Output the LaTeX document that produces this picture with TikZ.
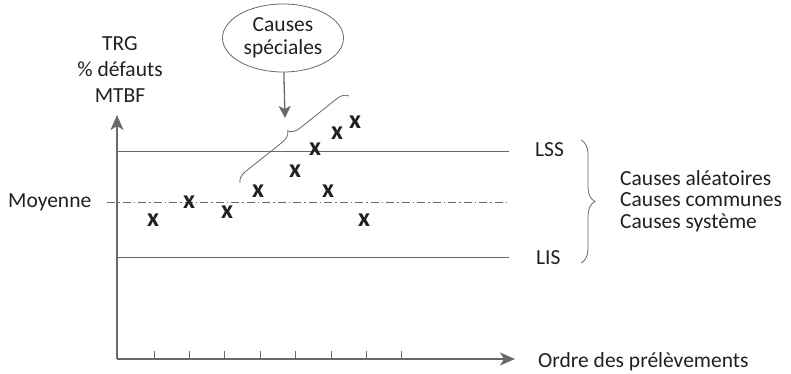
\documentclass[tikz,border=0pt]{standalone}
\usepackage{fontspec}
\setmainfont{Carlito}
\usetikzlibrary{arrows.meta,shapes.geometric,decorations.pathreplacing}
\definecolor{axisgray}{RGB}{105,105,105}
\definecolor{inkblack}{RGB}{35,31,32}
\begin{document}
\begin{tikzpicture}[x=1pt,y=-1pt,
    axis/.style={draw=axisgray,line width=1.3pt,-{Stealth[length=15pt,width=13pt,inset=4pt]}},
    limit/.style={draw=axisgray,line width=1pt},
    lbl/.style={text=inkblack,inner sep=0pt,font=\fontsize{21.5}{21.5}\selectfont},
    xmark/.style={text=inkblack,inner sep=0pt,font=\fontsize{26}{26}\selectfont\bfseries},
    curly/.style={draw=axisgray,line width=0.8pt,decorate,decoration={brace,amplitude=#1}}]
    \useasboundingbox (0,0) rectangle (791,374);
    % axes
    \coordinate (O) at (117,359);
    \coordinate (ytip) at (117,115);
    \coordinate (xtip) at (515,359);
    \draw[axis] (O) -- (ytip);
    \draw[axis] (O) -- (xtip);
    \foreach \x in {154,189.4,224.8,260.2,295.6,331,366.4,401.8}
        \draw[limit] (\x,351) -- (\x,359);
    % limits and mean
    \coordinate (lss) at (509,152);
    \coordinate (lis) at (509,257);
    \draw[limit] (117,152) -- (lss);
    \draw[limit] (117,257) -- (lis);
    \draw[limit,dash pattern=on 8pt off 3pt on 1.5pt off 3pt] (107,202) -- (509,202);
    % labels
    \node[lbl,font=\fontsize{21.5}{26}\selectfont,align=center] (yname) at (120,70) {TRG\\\% défauts\\MTBF};
    \node[lbl,anchor=base west] (moy) at (8,207) {Moyenne};
    \node[lbl,anchor=base west] (lsslbl) at (535,157) {LSS};
    \node[lbl,anchor=base west] (lislbl) at (536,264) {LIS};
    \node[lbl,anchor=base west] (xname) at (538,367) {Ordre des prélèvements};
    \node[lbl,anchor=west,align=left] (common) at (620,201) {Causes aléatoires\\Causes communes\\Causes système};
    \draw[curly=14pt] (581,140) -- (581,263);
    % points
    \foreach \px/\py [count=\i] in {153/220,189/202,227/212,258/191,295/171,328/191,364/220,315/149,337/133,355/122}
        \node[xmark] (p\i) at (\px,\py) {x};
    % special causes
    \node[ellipse,draw=axisgray,line width=0.8pt,minimum width=121pt,minimum height=68pt,inner sep=0pt,
        text=inkblack,align=center,font=\fontsize{21.5}{23}\selectfont] (spec) at (283,38) {Causes\\spéciales};
    \draw[curly=11pt] (240,183) -- (349,96);
    \coordinate (bracetip) at (285,118);
    \draw[axisgray,line width=1.3pt,-{Stealth[length=12pt,width=12pt,inset=3pt]}] (spec) -- (bracetip);
\end{tikzpicture}
\end{document}
